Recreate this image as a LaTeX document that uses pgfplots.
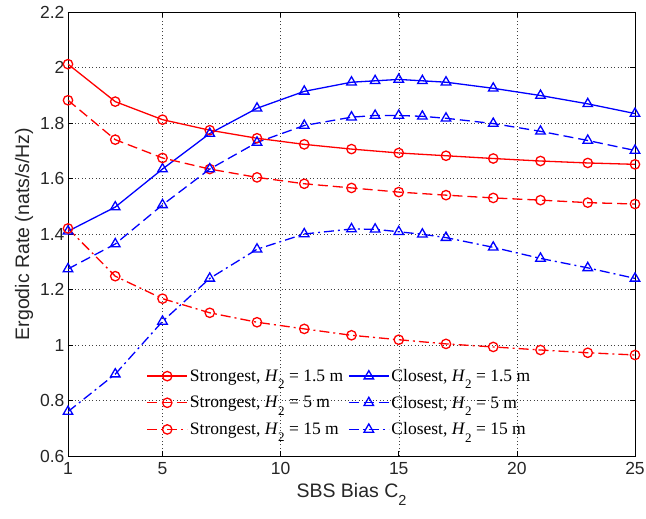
\documentclass[border=0pt]{standalone}
\usepackage{pgfplots}
\pgfplotsset{compat=1.18}
\usepackage{fontspec}
\setmainfont{Liberation Sans}
\newfontfamily\timesfont{Liberation Serif}
\newcommand\Htwo{\textit{H}\raisebox{-0.42em}{\fontsize{13}{13}\selectfont 2}}
\begin{document}
\begin{tikzpicture}
\begin{axis}[
  at={(0,0)}, anchor=south west,
  scale only axis, width=567pt, height=444pt,
  xmin=1, xmax=25, ymin=0.6, ymax=2.2,
  xtick={1,5,10,15,20,25},
  ytick={0.6,0.8,1,1.2,1.4,1.6,1.8,2,2.2},
  /pgf/number format/assume math mode=true,
  tick label style={font=\fontsize{17.5}{19}\selectfont, color=black!85},
  xticklabel style={yshift=-3pt},
  label style={font=\fontsize{19.5}{21}\selectfont, color=black!85},
  xlabel={SBS Bias C\raisebox{-0.4em}{\fontsize{14.5}{15}\selectfont 2}},
  ylabel={Ergodic Rate (nats/s/Hz)},
  xlabel style={yshift=-2pt},
  grid=major,
  major grid style={black!75, line width=0.5pt, dash pattern=on 1pt off 2.5pt},
  axis line style={black, line width=0.8pt},
  major tick length=5pt,
  tick style={black, line width=0.6pt},
  every axis plot/.append style={line width=1.3pt},
  legend columns=2,
  legend cell align=left,
  legend style={at={(0.133,0.035)}, anchor=south west, draw=none, fill=none,
    font=\timesfont\fontsize{17.5}{19}\selectfont, row sep=9pt,
    /tikz/every even column/.append style={column sep=3pt}},
  legend image code/.code={\draw[mark repeat=2,mark phase=2] plot coordinates {(0pt,0pt) (20pt,0pt) (40pt,0pt)};},
]
% Strongest, H2 = 1.5 m
\addplot[red, solid, mark=o, mark size=4.7pt, mark options={solid}] coordinates {
(1,2.012) (3,1.877) (5,1.812) (7,1.774) (9,1.745) (11,1.723) (13,1.706) (15,1.692) (17,1.682) (19,1.672) (21,1.663) (23,1.656) (25,1.651)};
\addlegendentry{Strongest, \Htwo{} = 1.5 m}
% Closest, H2 = 1.5 m
\addplot[blue, solid, mark=triangle, mark size=5.5pt, mark options={solid}] coordinates {
(1,1.41) (3,1.497) (5,1.634) (7,1.762) (9,1.853) (11,1.914) (13,1.947) (14,1.952) (15,1.957) (16,1.952) (17,1.947) (19,1.925) (21,1.899) (23,1.869) (25,1.834)};
\addlegendentry{Closest, \Htwo{} = 1.5 m}
% Strongest, H2 = 5 m
\addplot[red, dash pattern=on 10pt off 5pt, mark=o, mark size=4.7pt, mark options={solid}] coordinates {
(1,1.882) (3,1.740) (5,1.674) (7,1.634) (9,1.604) (11,1.581) (13,1.566) (15,1.551) (17,1.540) (19,1.530) (21,1.522) (23,1.513) (25,1.508)};
\addlegendentry{Strongest, \Htwo{} = 5 m}
% Closest, H2 = 5 m
\addplot[blue, dash pattern=on 10pt off 5pt, mark=triangle, mark size=5.5pt, mark options={solid}] coordinates {
(1,1.274) (3,1.364) (5,1.505) (7,1.634) (9,1.730) (11,1.791) (13,1.821) (14,1.827) (15,1.827) (16,1.824) (17,1.817) (19,1.798) (21,1.770) (23,1.737) (25,1.701)};
\addlegendentry{Closest, \Htwo{} = 5 m}
% Strongest, H2 = 15 m
\addplot[red, dash pattern=on 10pt off 4pt on 2pt off 4pt, mark=o, mark size=4.7pt, mark options={solid}] coordinates {
(1,1.420) (3,1.248) (5,1.167) (7,1.116) (9,1.082) (11,1.058) (13,1.035) (15,1.019) (17,1.004) (19,0.993) (21,0.982) (23,0.972) (25,0.964)};
\addlegendentry{Strongest, \Htwo{} = 15 m}
% Closest, H2 = 15 m
\addplot[blue, dash pattern=on 10pt off 4pt on 2pt off 4pt, mark=triangle, mark size=5.5pt, mark options={solid}] coordinates {
(1,0.760) (3,0.895) (5,1.085) (7,1.240) (9,1.345) (11,1.400) (13,1.418) (14,1.417) (15,1.408) (16,1.399) (17,1.387) (19,1.352) (21,1.312) (23,1.278) (25,1.240)};
\addlegendentry{Closest, \Htwo{} = 15 m}
\end{axis}
\pgfresetboundingbox
\path (-68pt,-63pt) rectangle (578pt,456pt);
\end{tikzpicture}
\end{document}
